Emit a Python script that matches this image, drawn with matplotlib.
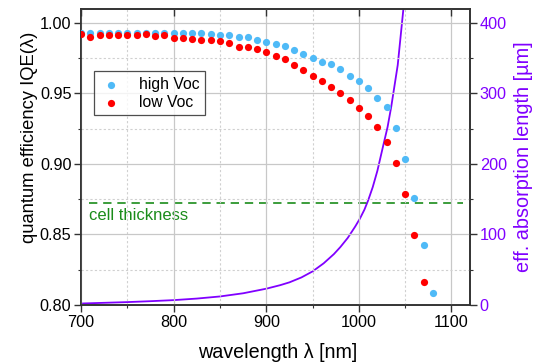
import matplotlib
matplotlib.use("Agg")
import matplotlib.pyplot as plt
from matplotlib.ticker import MultipleLocator, FormatStrFormatter

plt.rcParams['font.family'] = ['Liberation Sans', 'DejaVu Sans']

wl_high = [700, 710, 720, 730, 740, 750, 760, 770, 780, 790, 800, 810, 820, 830, 840, 850,
           860, 870, 880, 890, 900, 910, 920, 930, 940, 950, 960, 970, 980, 990, 1000, 1010,
           1020, 1030, 1040, 1050, 1060, 1070, 1080]
iqe_high = [0.9929, 0.9929, 0.9927, 0.9927, 0.9929, 0.9927, 0.9929, 0.9929, 0.9929, 0.9929,
            0.9929, 0.9929, 0.9927, 0.9925, 0.9920, 0.9915, 0.9911, 0.9901, 0.9897, 0.9877,
            0.9863, 0.9849, 0.9835, 0.9807, 0.9778, 0.9752, 0.9722, 0.9705, 0.9670, 0.9623,
            0.9587, 0.9535, 0.9469, 0.9405, 0.9254, 0.9037, 0.8756, 0.8426, 0.8088]

wl_low = [700, 710, 720, 730, 740, 750, 760, 770, 780, 790, 800, 810, 820, 830, 840, 850,
          860, 870, 880, 890, 900, 910, 920, 930, 940, 950, 960, 970, 980, 990, 1000, 1010,
          1020, 1030, 1040, 1050, 1060, 1070]
iqe_low = [0.9922, 0.9897, 0.9911, 0.9915, 0.9911, 0.9911, 0.9915, 0.9920, 0.9906, 0.9911,
           0.9892, 0.9892, 0.9885, 0.9877, 0.9877, 0.9873, 0.9854, 0.9830, 0.9826, 0.9812,
           0.9792, 0.9764, 0.9741, 0.9700, 0.9667, 0.9623, 0.9589, 0.9542, 0.9500, 0.9450,
           0.9398, 0.9341, 0.9264, 0.9153, 0.9004, 0.8789, 0.8494, 0.8166]

wl_abs = [700, 725, 750, 775, 800, 825, 850, 875, 900, 915, 925, 938, 950, 962, 973, 980,
          988, 996, 1001, 1006, 1010, 1015, 1020, 1026, 1031, 1035, 1042, 1048, 1051]
abs_len = [2.0, 3.0, 4.0, 5.3, 6.8, 9.0, 12.0, 16.5, 23.0, 28.0, 32.0, 39.0, 47.5, 59.0,
           72.0, 82.0, 95.0, 111.0, 122.0, 135.0, 148.0, 167.0, 190.0, 224.0, 252.0, 281.0,
           340.0, 418.0, 460.0]

cell_thickness = 145.0
thick_span = [708, 1112]

BLUE = '#4fbaf7'
RED = '#ff0000'
PURPLE = '#8000ff'
GREEN = '#1a8c1a'
SPINE = '#333333'

fig = plt.figure(figsize=(5.34, 3.63), dpi=100)
ax = fig.add_axes([0.152, 0.160, 0.728, 0.815])
ax2 = ax.twinx()

ax.set_zorder(ax2.get_zorder() + 1)
ax.patch.set_visible(False)

ax.scatter(wl_high, iqe_high, s=27, color=BLUE, label='high Voc', zorder=3, linewidths=0)
ax.scatter(wl_low, iqe_low, s=27, color=RED, label='low Voc', zorder=4, linewidths=0)

ax2.plot(wl_abs, abs_len, color=PURPLE, lw=1.3)
ax2.plot(thick_span, [cell_thickness, cell_thickness], color=GREEN, lw=1.2,
         dashes=(5, 3.5))
ax2.text(709, cell_thickness - 8, 'cell thickness', color=GREEN, fontsize=12,
         va='top', ha='left')

ax.set_xlim(700, 1120)
ax.set_ylim(0.80, 1.0097)
ax2.set_ylim(0, 419.4)

ax.xaxis.set_major_locator(MultipleLocator(100))
ax.xaxis.set_minor_locator(MultipleLocator(50))
ax.yaxis.set_major_locator(MultipleLocator(0.05))
ax.yaxis.set_minor_locator(MultipleLocator(0.025))
ax.yaxis.set_major_formatter(FormatStrFormatter('%.2f'))
ax2.yaxis.set_major_locator(MultipleLocator(100))
ax2.yaxis.set_minor_locator(MultipleLocator(50))

ax.grid(True, which='major', color='#c8c8c8', lw=0.9, ls='-')
ax.grid(True, which='minor', color='#d0d0d0', lw=0.8, ls=(0, (2, 2)))
ax.set_axisbelow(True)

TICK_FS = 11.7
ax.tick_params(axis='both', which='major', labelsize=TICK_FS, direction='out', length=5,
               width=1, color=SPINE, pad=2)
ax.tick_params(axis='both', which='minor', direction='out', length=2.5, width=0.8, color=SPINE)
ax.tick_params(axis='x', which='major', top=True, labeltop=False)
ax2.tick_params(axis='y', which='major', labelsize=TICK_FS, direction='out', length=5,
                width=1, color=SPINE, labelcolor=PURPLE, pad=2)
ax2.tick_params(axis='y', which='minor', direction='out', length=2.5, width=0.8, color=SPINE)

# top ticks inward
for t in ax.xaxis.get_major_ticks():
    t.tick2line.set_marker(3)
ax.xaxis.set_tick_params(which='minor', top=False)

for a in (ax, ax2):
    for s in a.spines.values():
        s.set_color(SPINE)
        s.set_linewidth(1.2)

ax.set_xlabel('wavelength λ [nm]', fontsize=14.2)
ax.set_ylabel('quantum efficiency IQE(λ)', fontsize=13.2)
ax2.set_ylabel('eff. absorption length [µm]', fontsize=14.3, color=PURPLE)
ax.xaxis.set_label_coords(0.506, -0.13)
ax.yaxis.set_label_coords(-0.112, 0.565)
ax2.yaxis.set_label_coords(1.114, 0.50)

leg = ax.legend(loc='upper left', bbox_to_anchor=(0.033, 0.79), fontsize=11.3,
                frameon=True, fancybox=False, edgecolor='#222222', handletextpad=1.0,
                borderpad=0.35, labelspacing=0.2, handlelength=1.5, borderaxespad=0)
leg.get_frame().set_linewidth(0.9)

fig.savefig('out.png', dpi=100)
